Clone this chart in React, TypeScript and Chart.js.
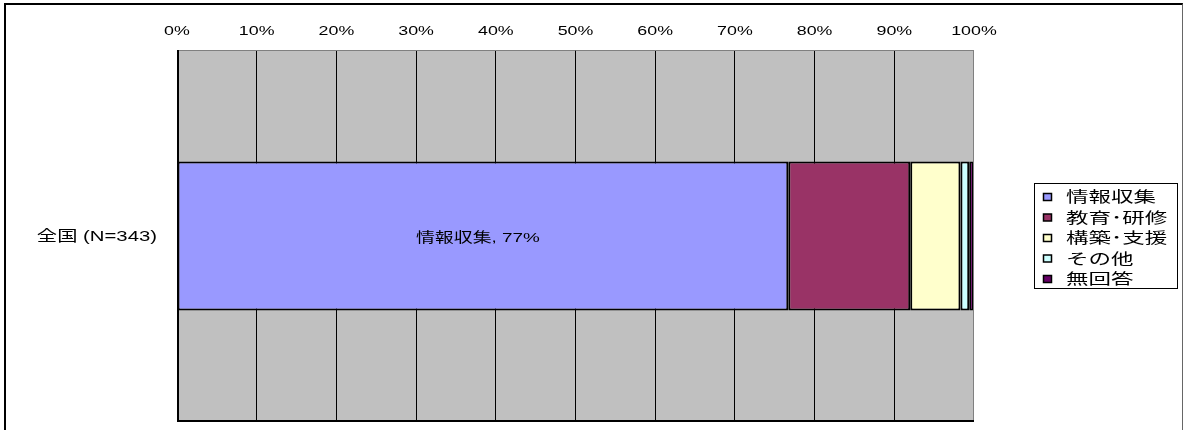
import { useEffect, useRef } from "react";
import { Chart, registerables } from "chart.js";

Chart.register(...registerables);

// Survey breakdown, percent of respondents
const categories = ["全国 (N=343)"];
const seriesNames = ["情報収集", "教育･研修", "構築･支援", "その他", "無回答"];
const infoValues = [76.7];
const trainingValues = [15.3];
const buildValues = [6.3];
const otherValues = [1.1];
const noAnswerValues = [0.6];
const seriesColors = ["#9999FF", "#993366", "#FFFFCC", "#CCFFFF", "#660066"];
const xTickValues = [0, 10, 20, 30, 40, 50, 60, 70, 80, 90, 100];

const FONT = '"Liberation Sans", Arial, "Noto Sans CJK JP", sans-serif';

// Draws text with a wide horizontal aspect, like the office-chart fonts
function wideText(ctx: any, text: string, x: number, y: number, align: string, size: number, sx: number) {
  ctx.save();
  ctx.translate(x, y);
  ctx.scale(sx, 1);
  ctx.font = `${size}px ${FONT}`;
  ctx.fillStyle = "#000";
  ctx.textAlign = align;
  ctx.textBaseline = "middle";
  ctx.fillText(text, 0, 0);
  ctx.restore();
}

const plotBackground = {
  id: "plotBackground",
  beforeDraw(chart: any) {
    const { ctx, chartArea: a } = chart;
    ctx.save();
    ctx.fillStyle = "#C0C0C0";
    ctx.fillRect(a.left, a.top, a.right - a.left, a.bottom - a.top);
    ctx.restore();
  },
  afterDraw(chart: any) {
    const { ctx, chartArea: a } = chart;
    ctx.save();
    ctx.lineWidth = 1;
    ctx.strokeStyle = "#808080";
    ctx.beginPath();
    ctx.moveTo(a.left, a.top + 0.5);
    ctx.lineTo(a.right, a.top + 0.5);
    ctx.moveTo(a.right - 0.5, a.top);
    ctx.lineTo(a.right - 0.5, a.bottom);
    ctx.stroke();
    ctx.lineWidth = 2;
    ctx.strokeStyle = "#000";
    ctx.beginPath();
    ctx.moveTo(a.left + 1, a.top);
    ctx.lineTo(a.left + 1, a.bottom - 1);
    ctx.lineTo(a.right, a.bottom - 1);
    ctx.stroke();
    ctx.restore();
  },
};

const axisLabels = {
  id: "axisLabels",
  afterDraw(chart: any) {
    const { ctx, chartArea: a } = chart;
    const xs = chart.scales.x;
    const ys = chart.scales.y;
    xTickValues.forEach((v) => {
      wideText(ctx, `${v}%`, xs.getPixelForValue(v), a.top - 19, "center", 13.5, 1.32);
    });
    (chart.data.labels as string[]).forEach((lab, i) => {
      wideText(ctx, lab, a.left - 20, ys.getPixelForValue(i) + 0.5, "right", 14.5, 1.4);
    });
  },
};

const segmentLabel = {
  id: "segmentLabel",
  afterDatasetsDraw(chart: any) {
    const { ctx } = chart;
    const meta = chart.getDatasetMeta(0);
    const ds = chart.data.datasets[0];
    meta.data.forEach((el: any, i: number) => {
      const v = ds.data[i] as number;
      wideText(ctx, `${ds.label}, ${Math.round(v)}%`, (el.x + el.base) / 2 - 5, el.y + 2, "center", 13.5, 1.4);
    });
  },
};

const boxLegend = {
  id: "boxLegend",
  afterDraw(chart: any) {
    const { ctx, chartArea: a } = chart;
    const left = a.right + 60;
    const top = a.top + 133;
    const w = 143;
    const h = 105;
    ctx.save();
    ctx.fillStyle = "#fff";
    ctx.fillRect(left, top, w, h);
    ctx.strokeStyle = "#000";
    ctx.lineWidth = 1;
    ctx.strokeRect(left + 0.5, top + 0.5, w, h);
    chart.data.datasets.forEach((ds: any, i: number) => {
      const cy = top + 14 + i * 20.5;
      ctx.fillStyle = ds.backgroundColor;
      ctx.fillRect(left + 9.5, cy - 3.5, 8, 7);
      ctx.strokeStyle = "#000";
      ctx.lineWidth = 1.5;
      ctx.strokeRect(left + 9.5, cy - 3.5, 8, 7);
      wideText(ctx, ds.label, left + 32, cy + 1, "left", 15, 1.5);
    });
    ctx.restore();
  },
};

export default function App() {
  const canvasRef = useRef<HTMLCanvasElement | null>(null);

  useEffect(() => {
    if (!canvasRef.current) return;
    const seriesValues = [infoValues, trainingValues, buildValues, otherValues, noAnswerValues];
    const chart = new Chart(canvasRef.current, {
      type: "bar",
      data: {
        labels: categories,
        datasets: seriesNames.map((name, i) => ({
          label: name,
          data: seriesValues[i],
          backgroundColor: seriesColors[i],
          borderColor: "#000",
          borderWidth: 2,
          borderSkipped: false,
          barPercentage: 0.4,
          categoryPercentage: 1,
        })),
      },
      options: {
        indexAxis: "y",
        animation: false,
        responsive: true,
        maintainAspectRatio: false,
        layout: { padding: { left: 0, top: 0, right: 210, bottom: 8 } },
        plugins: { legend: { display: false }, tooltip: { enabled: false } },
        scales: {
          x: {
            type: "linear",
            position: "top",
            stacked: true,
            min: 0,
            max: 100,
            afterBuildTicks: (s: any) => {
              s.ticks = xTickValues.map((v) => ({ value: v }));
            },
            afterFit: (s: any) => {
              s.height = 50;
            },
            ticks: { display: false },
            grid: {
              drawTicks: false,
              lineWidth: 1,
              color: (c: any) =>
                c.tick && (c.tick.value === 0 || c.tick.value === 100) ? "rgba(0,0,0,0)" : "#000",
            },
            border: { display: false },
          },
          y: {
            type: "category",
            stacked: true,
            afterFit: (s: any) => {
              s.width = 177;
            },
            ticks: { display: false },
            grid: { display: false, drawTicks: false },
            border: { display: false },
          },
        },
      },
      plugins: [plotBackground, segmentLabel, axisLabels, boxLegend],
    });
    return () => chart.destroy();
  }, []);

  return (
    <div style={{ position: "absolute", left: 0, top: 0, width: 1184, height: 430, overflow: "hidden", background: "#fff" }}>
      <div
        style={{
          position: "absolute",
          left: 4,
          top: 3,
          width: 1176,
          height: 460,
          borderTop: "2px solid #000",
          borderLeft: "2px solid #000",
          borderRight: "1px solid #666",
        }}
      />
      <div style={{ position: "absolute", left: 0, top: 0, width: 1184, height: 430 }}>
        <canvas ref={canvasRef} />
      </div>
    </div>
  );
}
